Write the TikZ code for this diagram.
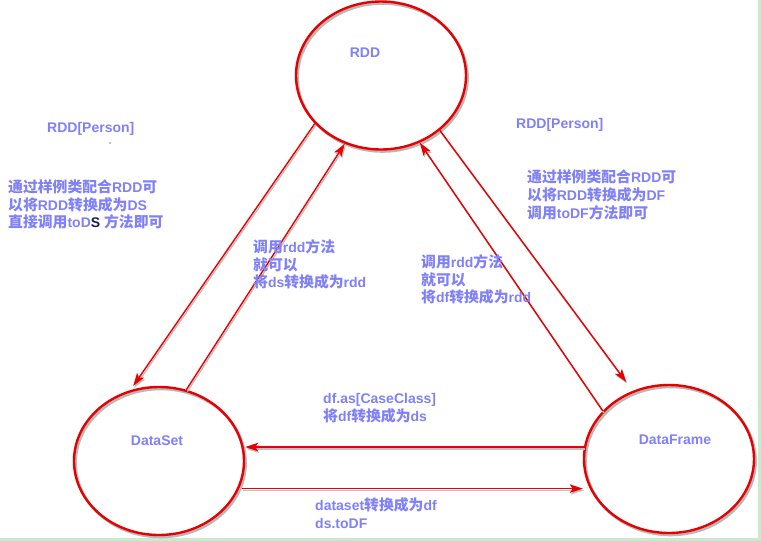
\documentclass[tikz,border=0pt]{standalone}
\usepackage{fontspec}
\setmainfont{Liberation Sans}
\newfontfamily\cjk{Noto Sans CJK SC}[Scale=1.06]
\usetikzlibrary{shapes.geometric,arrows.meta}
\definecolor{lblue}{RGB}{128,128,250}
\definecolor{lred}{RGB}{232,0,0}
\definecolor{bggreen}{RGB}{205,232,207}
\definecolor{darkS}{RGB}{30,30,70}
\newcommand{\zh}[1]{{\cjk #1}}
\begin{document}
\begin{tikzpicture}[x=1pt,y=-1pt,
  oval/.style={ellipse, draw=lred, line width=2.4pt, minimum width=170pt, minimum height=148pt, inner sep=0pt,
    preaction={draw=black!28, line width=2.6pt, transform canvas={shift={(1.6pt,-2pt)}}}},
  arr/.style={draw=lred, line width=1.4pt, -{Stealth[length=13pt,width=8.5pt,inset=3pt]},
    preaction={draw=black!25, line width=1.4pt, transform canvas={shift={(1pt,-1.8pt)}}}},
  txt/.style={text=lblue, font=\bfseries\fontsize{14}{17.8}\selectfont, inner sep=0pt, anchor=west, align=left},
  lbl/.style={text=lblue, font=\bfseries\fontsize{14}{17}\selectfont, inner sep=0pt}]
\useasboundingbox (0,0) rectangle (761,541);
\fill[bggreen] (0,0) rectangle (761,541);
\fill[white] (0,0) rectangle (757.5,537.5);

% ellipses
\node[oval] (rdd) at (381,75.5) {};
\node[oval] (ds) at (159,461) {};
\node[oval] (df) at (669,459) {};

% labels inside
\node[lbl] (rddl) at (365,53) {RDD};
\node[lbl] (dsl) at (157,441) {DataSet};
\node[lbl] (dfl) at (675,440) {DataFrame};

% connectors
\draw[arr, shorten >=5pt] (rdd.216.5) -- (ds.112);
\draw[arr] (ds.69.5) -- (rdd.242);
\draw[arr] (df.144.1) -- (rdd.300.8);
\draw[arr, shorten >=11pt] (rdd.317.2) -- (df.118);
\draw[arr] (df.172) -- (df.172 -| ds.east);
\draw[arr, shorten <=3pt] (ds.341.4) -- (ds.341.4 -| df.west);

% texts
\node[txt] (t1) at (47,129) {RDD[Person]};
\fill[black] (110,143) circle (0.7);
\node[txt] (t2) at (8,204.5) {\zh{通过样例类配合}RDD\zh{可}\\\zh{以将}RDD\zh{转换成为}DS\\\zh{直接调用}toD\textcolor{darkS}{S} \zh{方法即可}};
\node[txt] (t3) at (516,125) {RDD[Person]};
\node[txt] (t4) at (527,195) {\zh{通过样例类配合}RDD\zh{可}\\\zh{以将}RDD\zh{转换成为}DF\\\zh{调用}toDF\zh{方法即可}};
\node[txt] (t5) at (253,264.5) {\zh{调用}rdd\zh{方法}\\\zh{就可以}\\\zh{将}ds\zh{转换成为}rdd};
\node[txt] (t6) at (421,279.5) {\zh{调用}rdd\zh{方法}\\\zh{就可以}\\\zh{将}df\zh{转换成为}rdd};
\node[txt] (t7) at (323,408) {df.as[CaseClass]\\\zh{将}df\zh{转换成为}ds};
\node[txt] (t8) at (315,513) {dataset\zh{转换成为}df\\ds.toDF};
\end{tikzpicture}
\end{document}
